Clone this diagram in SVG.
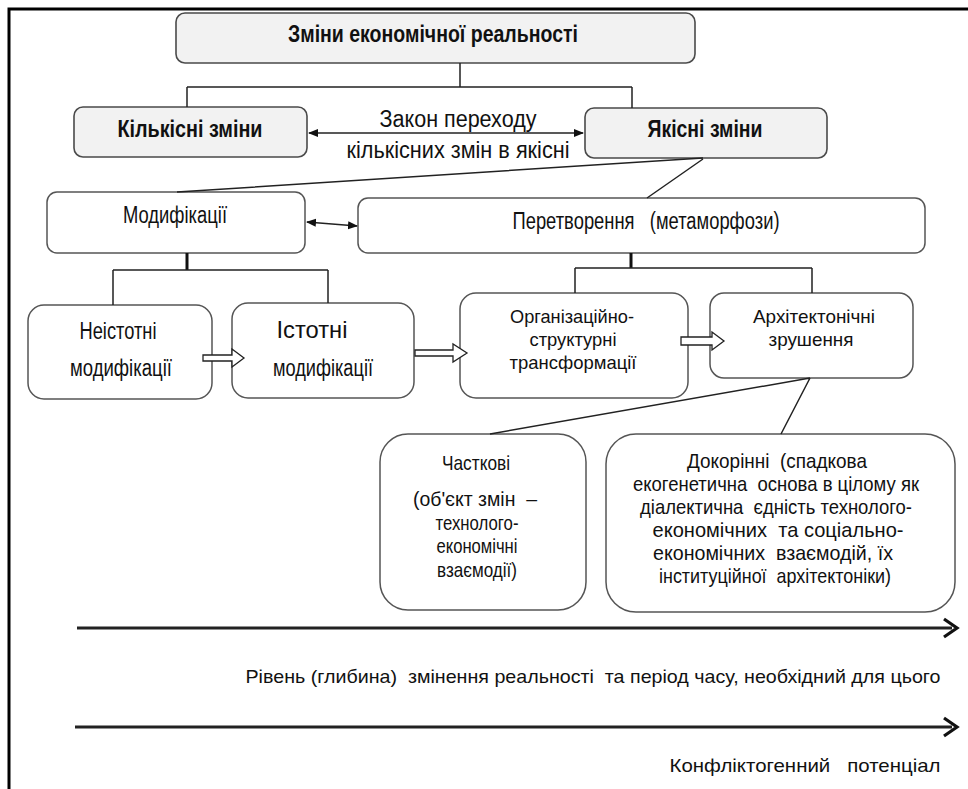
<svg xmlns="http://www.w3.org/2000/svg" width="968" height="789" viewBox="0 0 968 789">
<style>
text{font-family:"Liberation Sans",Arial,sans-serif;fill:#111;text-anchor:middle}
.b{font-weight:bold;font-size:24px}
.r{font-size:23px}
.m{font-size:19px}
.s{font-size:21px}
.f{font-size:19px}
.g{fill:#f2f2f2;stroke:#4a4a4a;stroke-width:1.6}
.w{fill:#fff;stroke:#555;stroke-width:1.5}
.c{fill:none;stroke:#222;stroke-width:1.5}
.t{fill:none;stroke:#111;stroke-width:3}
.ba{fill:#fff;stroke:#222;stroke-width:1.3}
.ax{fill:none;stroke:#222;stroke-width:3.2}
</style>
<defs>
<marker id="ah" viewBox="0 0 10 10" refX="9" refY="5" markerWidth="10" markerHeight="10" markerUnits="userSpaceOnUse" orient="auto-start-reverse">
<path d="M0,1 L10,5 L0,9 z" fill="#111"/>
</marker>
</defs>
<g id="frame"><path d="M9,789 V9 H968" fill="none" stroke="#000" stroke-width="3"/></g>

<g id="n-top"><rect class="g" x="176" y="13" width="519" height="50" rx="9"/>
<text class="b" x="433" y="42" textLength="290" lengthAdjust="spacingAndGlyphs">Зміни економічної реальності</text></g>

<g id="n-kilk"><rect class="g" x="74" y="107" width="233" height="50" rx="9"/>
<text class="b" x="190" y="137" textLength="145" lengthAdjust="spacingAndGlyphs">Кількісні зміни</text></g>

<g id="n-yak"><rect class="g" x="585" y="108" width="242" height="50" rx="9"/>
<text class="b" x="705" y="137" textLength="115" lengthAdjust="spacingAndGlyphs">Якісні зміни</text></g>

<g id="law">
<text class="r" x="458" y="127" textLength="157" lengthAdjust="spacingAndGlyphs">Закон переходу</text>
<text class="r" x="458" y="158" textLength="223" lengthAdjust="spacingAndGlyphs">кількісних змін в якісні</text>
</g>

<g id="n-mod"><rect class="w" x="47" y="192" width="258" height="61" rx="10"/>
<text class="r" x="175" y="223" textLength="104" lengthAdjust="spacingAndGlyphs">Модифікації</text></g>

<g id="n-pere"><rect class="w" x="358" y="198" width="567" height="55" rx="10"/>
<text class="r" x="646" y="229" textLength="267" lengthAdjust="spacingAndGlyphs" xml:space="preserve">Перетворення   (метаморфози)</text></g>

<g id="n-neist"><rect class="w" x="28" y="305" width="184" height="94" rx="16"/>
<text class="r" x="118" y="339" textLength="77" lengthAdjust="spacingAndGlyphs">Неістотні</text>
<text class="r" x="121" y="376" textLength="102" lengthAdjust="spacingAndGlyphs">модифікації</text></g>

<g id="n-ist"><rect class="w" x="232" y="303" width="182" height="95" rx="16"/>
<text class="r" x="312" y="338" textLength="71" lengthAdjust="spacingAndGlyphs">Істотні</text>
<text class="r" x="323" y="376" textLength="100" lengthAdjust="spacingAndGlyphs">модифікації</text></g>

<g id="n-org"><rect class="w" x="460" y="293" width="228" height="105" rx="16"/>
<text class="m" x="572" y="323" textLength="124" lengthAdjust="spacingAndGlyphs">Організаційно-</text>
<text class="m" x="573" y="346" textLength="87" lengthAdjust="spacingAndGlyphs">структурні</text>
<text class="m" x="573" y="369" textLength="127" lengthAdjust="spacingAndGlyphs">трансформації</text></g>

<g id="n-arch"><rect class="w" x="710" y="293" width="203" height="85" rx="14"/>
<text class="m" x="814" y="323" textLength="122" lengthAdjust="spacingAndGlyphs">Архітектонічні</text>
<text class="m" x="811" y="346" textLength="85" lengthAdjust="spacingAndGlyphs">зрушення</text></g>

<g id="n-chast"><rect class="w" x="380" y="434" width="206" height="176" rx="28"/>
<text class="s" x="476" y="470" textLength="68" lengthAdjust="spacingAndGlyphs">Часткові</text>
<text class="s" x="475" y="506" textLength="124" lengthAdjust="spacingAndGlyphs" xml:space="preserve">(об'єкт змін  –</text>
<text class="s" x="477" y="530" textLength="83" lengthAdjust="spacingAndGlyphs">технолого-</text>
<text class="s" x="477" y="553" textLength="81" lengthAdjust="spacingAndGlyphs">економічні</text>
<text class="s" x="477" y="577" textLength="80" lengthAdjust="spacingAndGlyphs">взаємодії)</text></g>

<g id="n-dokor"><rect class="w" x="606" y="434" width="349" height="178" rx="30"/>
<text class="s" x="777" y="468" textLength="180" lengthAdjust="spacingAndGlyphs" xml:space="preserve">Докорінні  (спадкова</text>
<text class="s" x="776" y="491" textLength="286" lengthAdjust="spacingAndGlyphs" xml:space="preserve">екогенетична  основа в цілому як</text>
<text class="s" x="776" y="514" textLength="272" lengthAdjust="spacingAndGlyphs" xml:space="preserve">діалектична  єдність технолого-</text>
<text class="s" x="778" y="537" textLength="251" lengthAdjust="spacingAndGlyphs" xml:space="preserve">економічних  та соціально-</text>
<text class="s" x="773" y="560" textLength="240" lengthAdjust="spacingAndGlyphs" xml:space="preserve">економічних  взаємодій, їх</text>
<text class="s" x="775" y="583" textLength="232" lengthAdjust="spacingAndGlyphs" xml:space="preserve">інституційної  архітектоніки)</text></g>

<g id="labels">
<text class="f" x="593" y="683" textLength="695" lengthAdjust="spacingAndGlyphs" xml:space="preserve">Рівень (глибина)  змінення реальності  та період часу, необхідний для цього</text>
<text class="f" x="805" y="772" textLength="271" lengthAdjust="spacingAndGlyphs" xml:space="preserve">Конфліктогенний   потенціал</text>
</g>

<g id="connectors">
<path class="c" d="M460,63 V87 M187,87 H632 M187,87 V107 M632,87 V108"/>
<line class="c" x1="309" y1="133" x2="583" y2="133" marker-start="url(#ah)" marker-end="url(#ah)"/>
<path class="c" d="M703,158 L177,192 M703,159 L647,198"/>
<line class="c" x1="307" y1="222" x2="357" y2="226" marker-start="url(#ah)" marker-end="url(#ah)"/>
<path class="t" d="M187,253 V270"/>
<path class="c" d="M113,270 H328 M113,270 V305 M328,270 V303"/>
<path class="t" d="M631,253 V268"/>
<path class="c" d="M575,268 H812 M575,268 V293 M812,268 V293"/>
<path class="c" d="M810,378 L490,434 M810,378 L781,434"/>
<path class="ba" d="M203,355 H232 V349 L244,358 L232,367 V361 H203 z"/>
<path class="ba" d="M415,350 H453 V344 L467,353 L453,362 V356 H415 z"/>
<path class="ba" d="M681,337 H712 V332 L724,341 L712,350 V345 H681 z"/>
<line class="ax" x1="77" y1="628" x2="952" y2="628"/>
<path d="M944,619 L957,628 L944,637" fill="none" stroke="#111" stroke-width="3.2"/>
<line class="ax" x1="75" y1="727" x2="952" y2="727"/>
<path d="M944,718 L957,727 L944,736" fill="none" stroke="#111" stroke-width="3.2"/>
</g>
</svg>
